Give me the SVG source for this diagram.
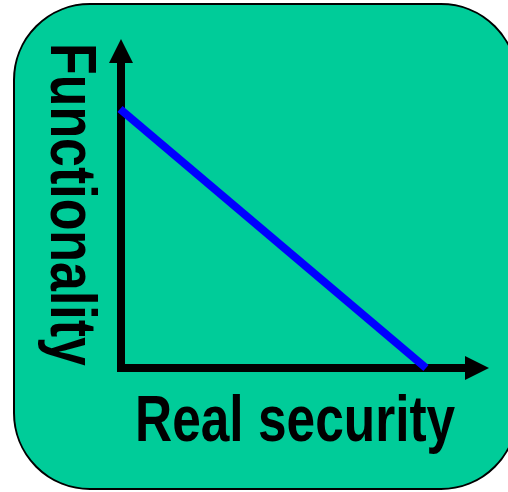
<svg xmlns="http://www.w3.org/2000/svg" width="508" height="492" viewBox="0 0 508 492">
<style>
.lbl{font-family:"Liberation Sans",Arial,sans-serif;font-weight:bold;font-size:64px;fill:#000}
.axis{stroke:#000;stroke-width:8;fill:none}
</style>
<defs>
<marker id="ah" markerUnits="userSpaceOnUse" markerWidth="24" markerHeight="24" refX="0" refY="12" orient="auto" viewBox="0 0 24 24">
<path d="M0,0 L24,12 L0,24 Z" fill="#000"/>
</marker>
</defs>
<g id="background">
<rect x="14" y="4" width="503" height="485" rx="76" ry="76" fill="#00CC99" stroke="#000" stroke-width="2"/>
</g>
<g id="connectors">
<line class="axis" x1="121" y1="372" x2="121" y2="63" marker-end="url(#ah)"/>
<line class="axis" x1="117" y1="368" x2="465" y2="368" marker-end="url(#ah)"/>
<line x1="120" y1="109" x2="426" y2="368" stroke="#0000FF" stroke-width="8"/>
</g>
<g id="ylabel">
<text class="lbl" transform="translate(51,43) rotate(90) scale(0.811,1)" x="0" y="0">Functionality</text>
</g>
<g id="xlabel">
<text class="lbl" transform="translate(135,441) scale(0.804,1)" x="0" y="0">Real security</text>
</g>
</svg>
